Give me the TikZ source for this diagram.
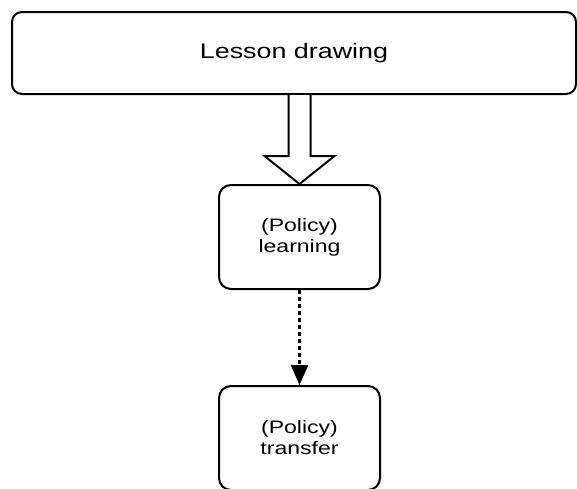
\documentclass[tikz,border=0pt]{standalone}
\usepackage{fontspec}
\newfontfamily\diagfont[FakeStretch=1.28]{Liberation Sans}
\usetikzlibrary{positioning,arrows.meta}
\tikzset{
  stage/.style={draw, line width=2pt, rounded corners=12pt, align=center,
                font=\diagfont\fontsize{18}{21}\selectfont,
                minimum width=161pt, minimum height=104pt, inner sep=0pt},
  hollow/.style={draw, line width=2pt, fill=white, line join=miter},
  dotflow/.style={line width=2.8pt, dash pattern=on 3.5pt off 3.5pt,
                  -{Triangle[length=20pt,width=17pt]}},
}
\begin{document}
\begin{tikzpicture}
  \useasboundingbox (0,0) rectangle (577pt,-488pt);
  \node[stage, minimum width=564pt, minimum height=82pt, rounded corners=10pt,
        font=\diagfont\fontsize{21}{25}\selectfont] (lesson) at (294pt,-53pt) {Lesson drawing};
  \node[stage, below=89pt of lesson, xshift=5.5pt] (learn) {(Policy)\\learning};
  \node[stage, below=95pt of learn] (transfer) {(Policy)\\transfer};
  % wide hollow arrow
  \coordinate (shafttop) at (learn.north |- lesson.south);
  \draw[hollow] ([xshift=-11pt]shafttop) -- ([shift={(-11pt,28pt)}]learn.north)
    -- ([shift={(-35pt,28pt)}]learn.north) -- (learn.north)
    -- ([shift={(35pt,28pt)}]learn.north) -- ([shift={(11pt,28pt)}]learn.north)
    -- ([xshift=11pt]shafttop);
  \draw[dotflow] (learn) -- (transfer);
\end{tikzpicture}
\end{document}
